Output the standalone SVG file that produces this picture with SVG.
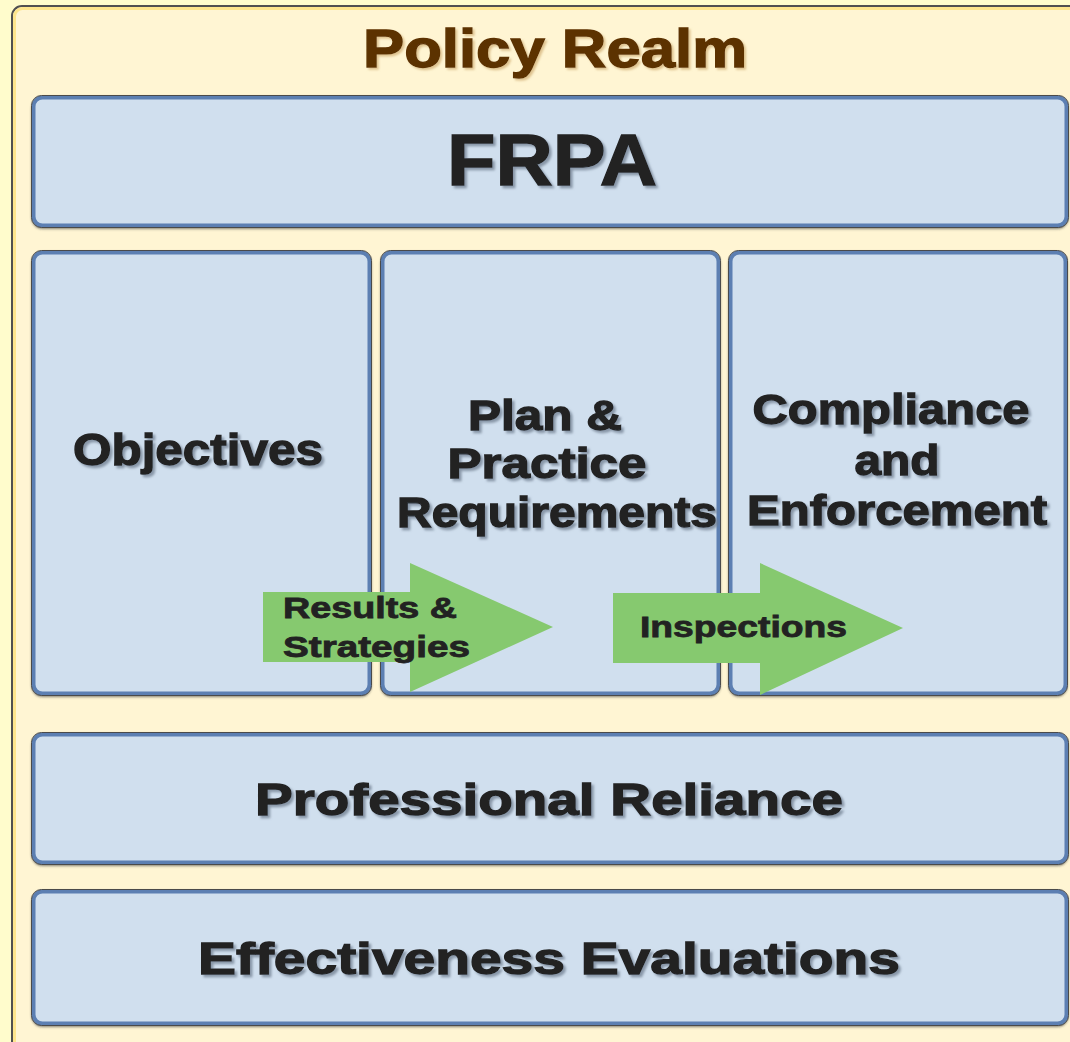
<svg xmlns="http://www.w3.org/2000/svg" width="1070" height="1042" viewBox="0 0 1070 1042">
<defs>
<filter id="sh" x="-10%" y="-30%" width="120%" height="160%">
<feDropShadow dx="2.5" dy="2.5" stdDeviation="1.2" flood-color="#6f7f90" flood-opacity="0.75"/>
</filter>
<filter id="sh2" x="-10%" y="-30%" width="120%" height="160%">
<feDropShadow dx="2" dy="2" stdDeviation="1.2" flood-color="#c8a060" flood-opacity="0.6"/>
</filter>
<filter id="bx" x="-5%" y="-5%" width="110%" height="110%">
<feDropShadow dx="0" dy="1.5" stdDeviation="0.8" flood-color="#333" flood-opacity="0.6"/>
</filter>
</defs>
<style>
.box{fill:#d0dfee;stroke:#5b7fb2;stroke-width:4;filter:url(#bx)}
.edge{fill:none;stroke:#4a4a4a;stroke-width:1}
.t{font-family:"Liberation Sans",Arial,sans-serif;font-weight:bold;fill:#222;stroke:#222;stroke-width:1.3;text-anchor:middle;filter:url(#sh)}
.a{fill:#86c96f}
.at{font-family:"Liberation Sans",Arial,sans-serif;font-weight:bold;fill:#222;stroke:#222;stroke-width:0.8;font-size:29px}
</style>
<rect x="0" y="0" width="1070" height="1042" fill="#fffccc"/>
<g id="frame">
<rect x="12" y="6" width="1080" height="1060" rx="10" fill="#fff5d3" stroke="#505050" stroke-width="2"/>
<rect x="14.5" y="8.5" width="1080" height="1060" rx="8" fill="none" stroke="#fde58c" stroke-width="3"/>
<text x="555" y="67" font-family="'Liberation Sans',Arial,sans-serif" font-weight="bold" font-size="54" fill="#5c3100" stroke="#5c3100" stroke-width="1.3" text-anchor="middle" textLength="384" lengthAdjust="spacingAndGlyphs" filter="url(#sh2)">Policy Realm</text>
</g>
<g id="frpa">
<rect class="box" x="33.5" y="97.5" width="1033" height="128" rx="9"/>
<rect class="edge" x="31.5" y="95.5" width="1037" height="132" rx="10"/>
<text class="t" x="552" y="185" font-size="72" textLength="210" lengthAdjust="spacingAndGlyphs">FRPA</text>
</g>
<g id="objectives">
<rect class="box" x="33.5" y="252.5" width="336" height="441" rx="9"/>
<rect class="edge" x="31.5" y="250.5" width="340" height="445" rx="10"/>
<text class="t" x="198" y="465" font-size="45" textLength="250" lengthAdjust="spacingAndGlyphs">Objectives</text>
</g>
<g id="plan">
<rect class="box" x="382.5" y="252.5" width="336" height="441" rx="9"/>
<rect class="edge" x="380.5" y="250.5" width="340" height="445" rx="10"/>
<text class="t" x="545" y="430" font-size="42" textLength="154" lengthAdjust="spacingAndGlyphs">Plan &amp;</text>
<text class="t" x="547" y="478" font-size="42" textLength="199" lengthAdjust="spacingAndGlyphs">Practice</text>
<text class="t" x="557" y="527" font-size="42" textLength="320" lengthAdjust="spacingAndGlyphs">Requirements</text>
</g>
<g id="compliance">
<rect class="box" x="730.5" y="252.5" width="335" height="441" rx="9"/>
<rect class="edge" x="728.5" y="250.5" width="339" height="445" rx="10"/>
<text class="t" x="891" y="424" font-size="42" textLength="277" lengthAdjust="spacingAndGlyphs">Compliance</text>
<text class="t" x="897" y="475" font-size="42" textLength="85" lengthAdjust="spacingAndGlyphs">and</text>
<text class="t" x="897" y="525" font-size="42" textLength="300" lengthAdjust="spacingAndGlyphs">Enforcement</text>
</g>
<g id="professional">
<rect class="box" x="33.5" y="734.5" width="1033" height="128" rx="9"/>
<rect class="edge" x="31.5" y="732.5" width="1037" height="132" rx="10"/>
<text class="t" x="549" y="815" font-size="45" textLength="588" lengthAdjust="spacingAndGlyphs">Professional Reliance</text>
</g>
<g id="effectiveness">
<rect class="box" x="33.5" y="891.5" width="1033" height="132" rx="9"/>
<rect class="edge" x="31.5" y="889.5" width="1037" height="136" rx="10"/>
<text class="t" x="549" y="974" font-size="45" textLength="702" lengthAdjust="spacingAndGlyphs">Effectiveness Evaluations</text>
</g>
<g id="connectors">
<g id="arrow-results">
<polygon class="a" points="263,592 410,592 410,563 553,627 410,692 410,662 263,662"/>
<text class="at" x="283" y="618" textLength="174" lengthAdjust="spacingAndGlyphs">Results &amp;</text>
<text class="at" x="283" y="657" textLength="187" lengthAdjust="spacingAndGlyphs">Strategies</text>
</g>
<g id="arrow-inspections">
<polygon class="a" points="613,593 760,593 760,563 903,628 760,695 760,663 613,663"/>
<text class="at" x="640" y="637" textLength="207" lengthAdjust="spacingAndGlyphs">Inspections</text>
</g>
</g>
</svg>
